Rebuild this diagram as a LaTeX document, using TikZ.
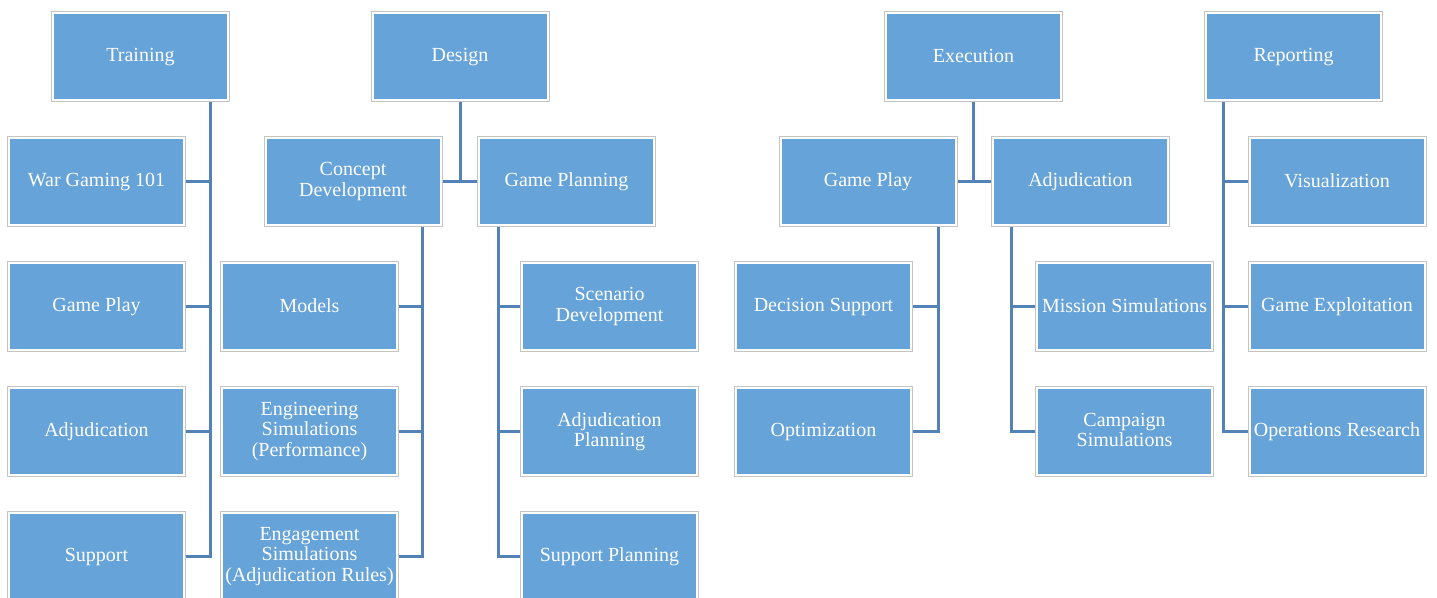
\documentclass[tikz,border=0pt]{standalone}
\usepackage{fontspec}
\setmainfont{Liberation Serif}
\usetikzlibrary{backgrounds}
\definecolor{boxblue}{HTML}{66A3D8}
\definecolor{linkblue}{HTML}{5383B6}
\definecolor{rimgray}{HTML}{C4C4C4}
\begin{document}
\begin{tikzpicture}[x=1bp,y=-1bp,
  box/.style={rectangle, minimum width=175bp, minimum height=87bp, inner sep=0pt,
    preaction={draw=rimgray, line width=4bp}, draw=white, line width=2bp, fill=boxblue,
    text=white, align=center, font=\fontsize{20bp}{20.5bp}\selectfont,
    execute at begin node={\rule{0pt}{15bp}},
    execute at end node={\rule[-3bp]{0pt}{3bp}}},
  link/.style={draw=linkblue, line width=3bp}]
\useasboundingbox (0,0) rectangle (1437,598);
% top level
\node[box] (train) at (140.5,56.5) {Training};
\node[box] (design) at (460,56.5) {Design};
\node[box] (exec) at (973.5,56.5) {Execution};
\node[box] (report) at (1293.5,56.5) {Reporting};
% training children
\node[box] (wg) at (96.5,181.5) {War Gaming 101};
\node[box] (tgp) at (96.5,306.5) {Game Play};
\node[box] (tadj) at (96.5,431.5) {Adjudication};
\node[box] (tsup) at (96.5,556.5) {Support};
% design children
\node[box] (concept) at (353,181.5) {Concept\\Development};
\node[box] (gplan) at (566.5,181.5) {Game Planning};
\node[box] (models) at (309.5,306.5) {Models};
\node[box] (engsim) at (309.5,431.5) {Engineering\\Simulations\\(Performance)};
\node[box] (enggsim) at (309.5,556.5) {Engagement\\Simulations\\(Adjudication Rules)};
\node[box] (scen) at (609.5,306.5) {Scenario\\Development};
\node[box] (adjplan) at (609.5,431.5) {Adjudication\\Planning};
\node[box] (supplan) at (609.5,556.5) {Support Planning};
% execution children
\node[box] (egp) at (868,181.5) {Game Play};
\node[box] (eadj) at (1080.5,181.5) {Adjudication};
\node[box] (dsup) at (823.5,306.5) {Decision Support};
\node[box] (optim) at (823.5,431.5) {Optimization};
\node[box] (mission) at (1124.5,306.5) {Mission Simulations};
\node[box] (campaign) at (1124.5,431.5) {Campaign\\Simulations};
% reporting children
\node[box] (vis) at (1337,181.5) {Visualization};
\node[box] (gexp) at (1337,306.5) {Game Exploitation};
\node[box] (opres) at (1337,431.5) {Operations Research};
% trunk coordinates
\coordinate (tt) at ([xshift=-19bp]train.south east);
\coordinate (ct) at ([xshift=-19bp]concept.south east);
\coordinate (gt) at ([xshift=20bp]gplan.south west);
\coordinate (et) at ([xshift=-18bp]egp.south east);
\coordinate (at) at ([xshift=19bp]eadj.south west);
\coordinate (rt) at ([xshift=18bp]report.south west);
\begin{scope}[on background layer]
  % training
  \draw[link] (tt) |- (tsup.east);
  \draw[link] (wg.east) -- (wg.east -| tt);
  \draw[link] (tgp.east) -- (tgp.east -| tt);
  \draw[link] (tadj.east) -- (tadj.east -| tt);
  % design
  \draw[link] (design.south) -- (design.south |- concept.east);
  \draw[link] (concept.east) -- (gplan.west);
  \draw[link] (ct) |- (enggsim.east);
  \draw[link] (models.east) -- (models.east -| ct);
  \draw[link] (engsim.east) -- (engsim.east -| ct);
  \draw[link] (gt) |- (supplan.west);
  \draw[link] (scen.west) -- (scen.west -| gt);
  \draw[link] (adjplan.west) -- (adjplan.west -| gt);
  % execution
  \draw[link] (exec.south) -- (exec.south |- egp.east);
  \draw[link] (egp.east) -- (eadj.west);
  \draw[link] (et) |- (optim.east);
  \draw[link] (dsup.east) -- (dsup.east -| et);
  \draw[link] (at) |- (campaign.west);
  \draw[link] (mission.west) -- (mission.west -| at);
  % reporting
  \draw[link] (rt) |- (opres.west);
  \draw[link] (vis.west) -- (vis.west -| rt);
  \draw[link] (gexp.west) -- (gexp.west -| rt);
\end{scope}
\end{tikzpicture}
\end{document}
